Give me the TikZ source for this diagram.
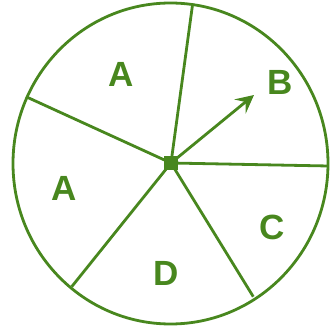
\documentclass[tikz,border=0pt]{standalone}
\usepackage{fontspec}
\setmainfont{Liberation Sans}
\usetikzlibrary{arrows.meta}
\definecolor{grn}{RGB}{72,135,30}
\begin{document}
\begin{tikzpicture}[x=1pt,y=-1pt,
  rim/.style={draw=grn,line width=2.8pt},
  spoke/.style={draw=grn,line width=2.8pt},
  lab/.style={text=grn,font=\bfseries\fontsize{35}{35}\selectfont,inner sep=0pt}]
\useasboundingbox (0,0) rectangle (330,326);
\coordinate (c) at (171,163);
\draw[rim] (170.5,163.5) ellipse [x radius=157.5, y radius=160.5];
\coordinate (p1) at (192.7,3.5);
\coordinate (p2) at (26,96.7);
\coordinate (p3) at (71.7,286.7);
\coordinate (p4) at (253.3,296.7);
\coordinate (p5) at (328.5,166);
\coordinate (tip) at (254,95);
\foreach \p in {p1,p2,p3,p4,p5} \draw[spoke] (c) -- (\p);
\draw[spoke,-{Stealth[length=18pt,width=18pt,inset=7pt]}] (c) -- (tip);
\fill[grn] (164,156) rectangle (178,170);
\node[lab] (a1) at (121,74) {A};
\node[lab] (b) at (280,82) {B};
\node[lab] (a2) at (64,188) {A};
\node[lab] (cc) at (272,227) {C};
\node[lab] (d) at (166,273) {D};
\end{tikzpicture}
\end{document}
